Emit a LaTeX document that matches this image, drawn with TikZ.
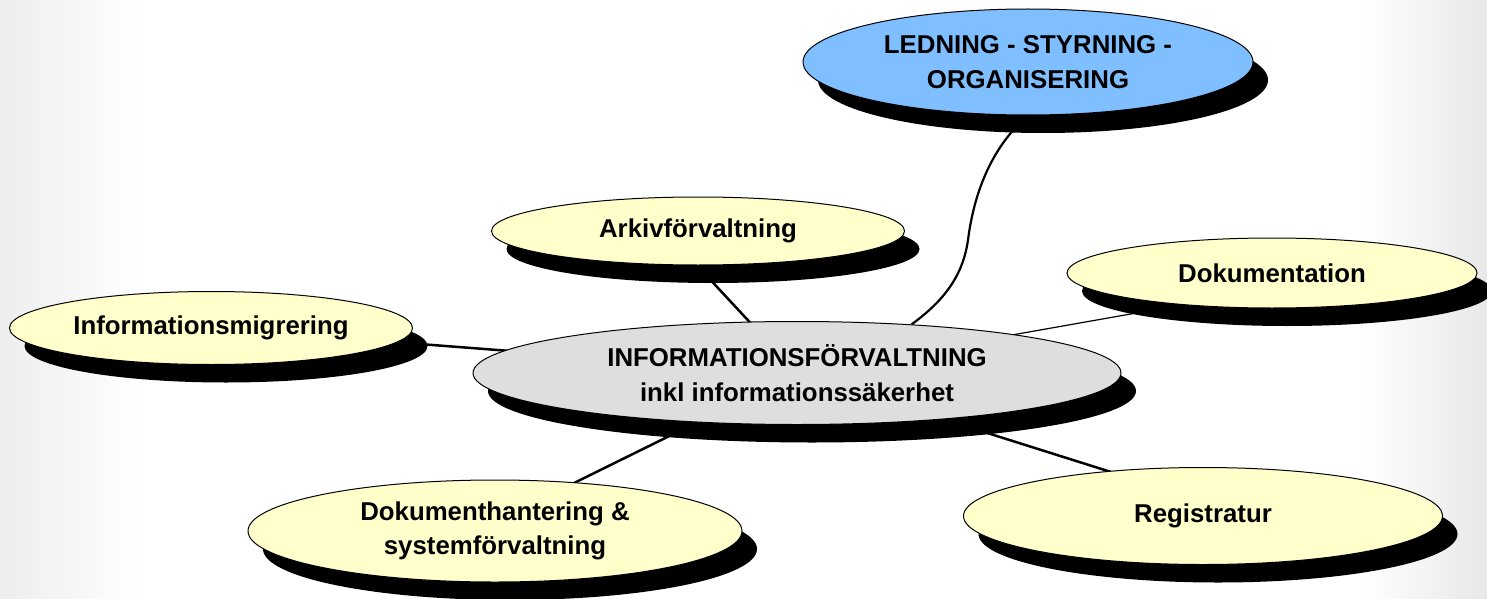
\documentclass[tikz,border=0pt]{standalone}
\usepackage{fontspec}
\setmainfont{Liberation Sans}
\usetikzlibrary{shapes.geometric,shadows,calc}
\pgfdeclarelayer{back}
\pgfdeclarelayer{lines}
\pgfsetlayers{back,lines,main}
\definecolor{topicyellow}{RGB}{255,255,204}
\definecolor{leadblue}{RGB}{128,191,255}
\definecolor{hubgray}{RGB}{222,222,222}
\tikzset{
  bubble/.style={ellipse, draw=black, line width=1pt, inner sep=0pt, align=center,
    font=\fontsize{25.8}{34.5}\selectfont\bfseries, text=black,
    drop shadow={shadow xshift=15pt, shadow yshift=-18pt, opacity=1, fill=black}},
  topic/.style={bubble, fill=topicyellow},
  link/.style={line width=2.5pt, draw=black},
  thinlink/.style={line width=1.2pt, draw=black},
  curvelink/.style={line width=2.2pt, draw=black},
}
\begin{document}
\begin{tikzpicture}[x=1pt,y=-1pt]
\useasboundingbox (0,0) rectangle (1487,599);
\begin{pgfonlayer}{back}
  \fill[white] (0,0) rectangle (1487,599);
  \shade[left color=black!7, right color=white] (0,0) rectangle (140,599);
  \shade[left color=white, right color=black!9] (1360,0) rectangle (1487,599);
\end{pgfonlayer}

\node[bubble, fill=hubgray, minimum width=648pt, minimum height=103pt] (hub) at (797,373)
  {INFORMATIONSFÖRVALTNING\\inkl informationssäkerhet};
\node[bubble, fill=leadblue, minimum width=450pt, minimum height=106pt] (lead) at (1028,62)
  {LEDNING - STYRNING -\\ORGANISERING};
\node[topic, minimum width=413pt, minimum height=68pt] (ark) at (698,231) {Arkivförvaltning};
\node[topic, minimum width=410pt, minimum height=70pt] (dok) at (1272,273) {Dokumentation};
\node[topic, minimum width=403pt, minimum height=73pt] (migr) at (211,328) {Informationsmigrering};
\node[topic, minimum width=494pt, minimum height=102pt] (hant) at (495,531) {Dokumenthantering \&\\systemförvaltning};
\node[topic, minimum width=479pt, minimum height=97pt] (reg) at (1203,516) {Registratur};

\begin{pgfonlayer}{lines}
  \draw[link] (hub.center) -- ([xshift=-33pt]ark.center);
  \draw[thinlink] (hub.center) -- ([yshift=-16pt]dok.center);
  \draw[link] (hub.center) -- ([yshift=15pt]reg.center);
  \draw[link] (hub.center) -- ([yshift=9pt]hant.center);
  \draw[link] (hub.center) -- (migr.center);
  \draw[curvelink] (hub.23) .. controls (945,300) and (963,275) .. (968,240)
    .. controls (973,200) and (988,150) .. (lead.south);
\end{pgfonlayer}
\end{tikzpicture}
\end{document}
